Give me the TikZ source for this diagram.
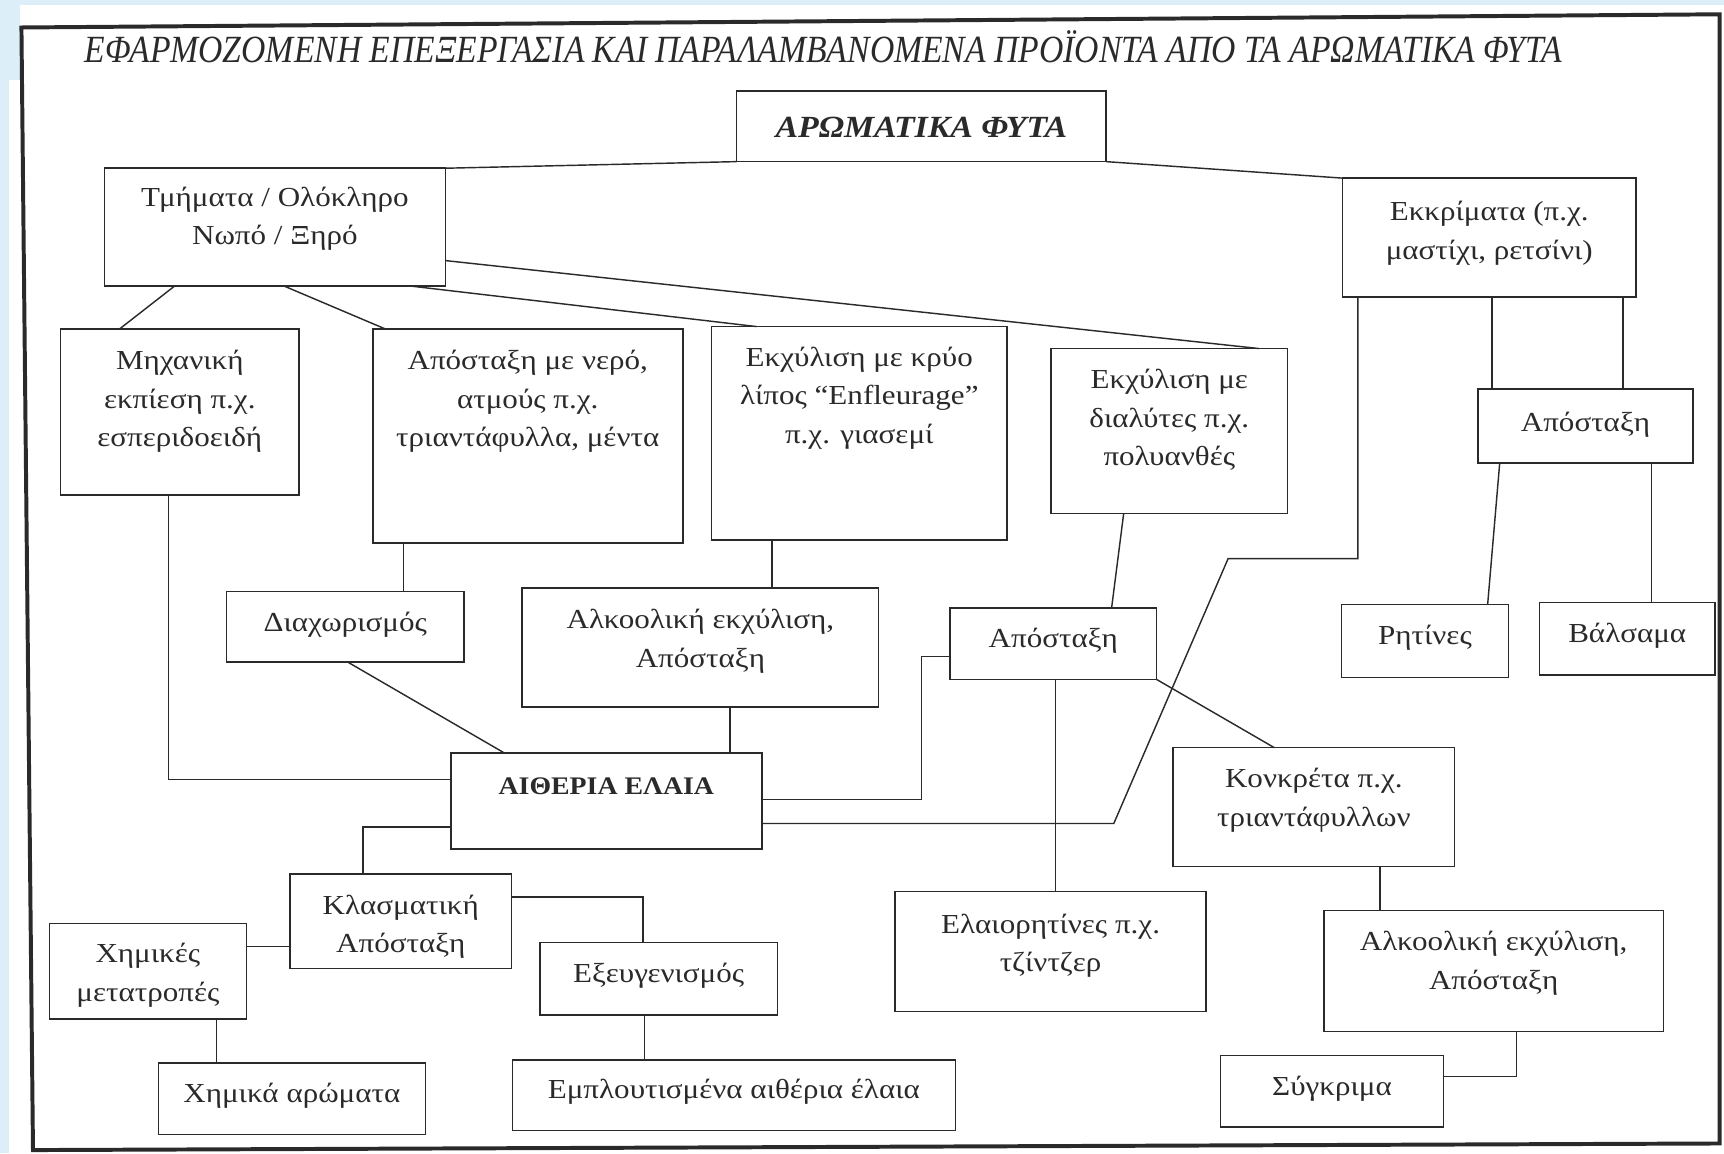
\documentclass[tikz,border=0pt]{standalone}
\usepackage{fontspec}
\setmainfont{Liberation Serif}
\newfontfamily\bodyf[FakeStretch=1.13]{Liberation Serif}
\newfontfamily\titlef[FakeStretch=0.875]{Liberation Serif}
\newfontfamily\aromf[FakeStretch=1.1]{Liberation Serif}
\usetikzlibrary{fit,calc}
\definecolor{ink}{RGB}{42,42,42}
\definecolor{bluebg}{RGB}{220,238,248}
\tikzset{
  boxst/.style={draw=ink, line width=1.4pt, inner sep=0pt, outer sep=0pt},
  txt/.style={text=ink, font=\bodyf\fontsize{25}{35}\selectfont, align=center, inner sep=0pt},
  conn/.style={draw=ink, line width=1.3pt},
}
\newcommand\mkbox[8][txt]{%
  \node[boxst, fit={(#3,#4) (#5,#6)}] (#2) {};
  \node[#1] (#2-t) at ({(#3+#5)/2},#7) {#8};}
\begin{document}
\begin{tikzpicture}[x=1pt,y=-1pt]
\useasboundingbox (0,0) rectangle (1568,1049);
\fill[white] (0,0) rectangle (1568,1049);
\fill[bluebg] (0,0) rectangle (1568,5);
\fill[bluebg] (0,0) rectangle (8,1049);
\fill[bluebg] (0,0) rectangle (18,73);
% frame
\draw[draw=ink, line width=3.6pt] (19.5,25) -- (1564,13) -- (1564,1040) -- (30,1046) -- cycle;
% title
\node[text=ink, font=\titlef\itshape\fontsize{35}{40}\selectfont, inner sep=0pt, anchor=base] (title) at (749,57)
  {ΕΦΑΡΜΟΖΟΜΕΝΗ ΕΠΕΞΕΡΓΑΣΙΑ ΚΑΙ ΠΑΡΑΛΑΜΒΑΝΟΜΕΝΑ ΠΡΟΪΟΝΤΑ ΑΠΟ ΤΑ ΑΡΩΜΑΤΙΚΑ ΦΥΤΑ};
% boxes
\mkbox[txt, font=\aromf\bfseries\itshape\fontsize{28}{30}\selectfont]{aromatika}{670}{83}{1006}{147}{116}{ΑΡΩΜΑΤΙΚΑ ΦΥΤΑ}
\mkbox{tmimata}{95}{153}{405}{260}{199}{Τμήματα / Ολόκληρο\\Νωπό / Ξηρό}
\mkbox{ekkrimata}{1221}{162}{1488}{270}{212}{Εκκρίματα (π.χ.\\μαστίχι, ρετσίνι)}
\mkbox{michaniki}{55}{299}{272}{450}{365}{Μηχανική\\εκπίεση π.χ.\\εσπεριδοειδή}
\mkbox{nero}{339}{299}{621}{494}{365}{Απόσταξη με νερό,\\ατμούς π.χ.\\τριαντάφυλλα, μέντα}
\mkbox{kryo}{647}{297}{916}{491}{362}{Εκχύλιση με κρύο\\λίπος “Enfleurage”\\π.χ. γιασεμί}
\mkbox{dialytes}{956}{317}{1171}{467}{382}{Εκχύλιση με\\διαλύτες π.χ.\\πολυανθές}
\mkbox{apostR}{1344}{354}{1540}{421}{386}{Απόσταξη}
\mkbox{ritines}{1220}{550}{1372}{616}{580}{Ρητίνες}
\mkbox{valsama}{1400}{548}{1560}{614}{578}{Βάλσαμα}
\mkbox{diax}{206}{538}{422}{602}{568}{Διαχωρισμός}
\mkbox{alkM}{475}{535}{799}{643}{583}{Αλκοολική εκχύλιση,\\Απόσταξη}
\mkbox{apostM}{864}{553}{1052}{618}{583}{Απόσταξη}
\mkbox[txt, font=\aromf\bfseries\fontsize{23}{30}\selectfont]{aitheria}{410}{685}{693}{772}{715}{ΑΙΘΕΡΙΑ ΕΛΑΙΑ}
\mkbox{konkreta}{1067}{680}{1323}{788}{728}{Κονκρέτα π.χ.\\τριαντάφυλλων}
\mkbox{klasm}{264}{795}{465}{881}{843}{Κλασματική\\Απόσταξη}
\mkbox{chimikes}{45}{840}{224}{927}{887}{Χημικές\\μετατροπές}
\mkbox{exeug}{491}{857}{707}{923}{887}{Εξευγενισμός}
\mkbox{elaior}{814}{811}{1097}{920}{860}{Ελαιορητίνες π.χ.\\τζίντζερ}
\mkbox{alkR}{1204}{828}{1513}{938}{876}{Αλκοολική εκχύλιση,\\Απόσταξη}
\mkbox{chimika}{144}{967}{387}{1032}{997}{Χημικά αρώματα}
\mkbox{emplout}{466}{964}{869}{1028}{993}{Εμπλουτισμένα αιθέρια έλαια}
\mkbox{sygkrima}{1110}{960}{1313}{1025}{990}{Σύγκριμα}
% connectors
\coordinate (k1) at (1117,508);
\coordinate (k2) at (1013,749);
\draw[conn] (aromatika.south west) -- (tmimata.north east);
\draw[conn] (aromatika.south east) -- (ekkrimata.north west);
\draw[conn] ([xshift=64pt]tmimata.south west) -- ([xshift=54pt]michaniki.north west);
\draw[conn] ([xshift=163pt]tmimata.south west) -- ([xshift=11pt]nero.north west);
\draw[conn] ([xshift=-33pt]tmimata.south east) -- ([xshift=41pt]kryo.north west);
\draw[conn] ([yshift=-30.5pt]tmimata.east) -- ([xshift=-26pt]dialytes.north east);
\draw[conn] ([xshift=136pt]ekkrimata.south west) coordinate (q) -- (q |- apostR.north);
\draw[conn] ([xshift=255pt]ekkrimata.south west) coordinate (q) -- (q |- apostR.north);
\draw[conn] ([xshift=14pt]ekkrimata.south west) |- (k1) -- (k2) -- (k2 -| aitheria.east);
\draw[conn] ([xshift=20pt]apostR.south west) -- ([xshift=133pt]ritines.north west);
\draw[conn] ([xshift=102pt]valsama.north west) coordinate (q) -- (q |- apostR.south);
\draw[conn] ([xshift=66pt]dialytes.south west) -- ([xshift=147pt]apostM.north west);
\draw[conn] ([yshift=-11.5pt]apostM.west) -- ++(-26,0) |- ([yshift=1.5pt]aitheria.east);
\draw[conn] ([xshift=96pt]apostM.south west) coordinate (q) -- (q |- elaior.north);
\draw[conn] (apostM.south east) -- ([xshift=92pt]konkreta.north west);
\draw[conn] ([xshift=28pt]nero.south west) coordinate (q) -- (q |- diax.north);
\draw[conn] ([xshift=55pt]kryo.south west) coordinate (q) -- (q |- alkM.north);
\draw[conn] ([xshift=110pt]diax.south west) -- ([xshift=49pt]aitheria.north west);
\draw[conn] ([xshift=254pt]aitheria.north west) coordinate (q) -- (q |- alkM.south);
\draw[conn] ([xshift=98pt]michaniki.south west) |- ([yshift=19.5pt]aitheria.west);
\draw[conn] ([yshift=-23.5pt]aitheria.west) -| ([xshift=66pt]klasm.north west);
\draw[conn] ([yshift=22pt]klasm.east) -| ([xshift=94pt]exeug.north west);
\draw[conn] ([yshift=22.5pt]chimikes.east) coordinate (q) -- (q -| klasm.west);
\draw[conn] ([xshift=152pt]chimikes.south west) coordinate (q) -- (q |- chimika.north);
\draw[conn] ([xshift=95pt]exeug.south west) coordinate (q) -- (q |- emplout.north);
\draw[conn] ([xshift=188pt]konkreta.south west) coordinate (q) -- (q |- alkR.north);
\draw[conn] ([xshift=175pt]alkR.south west) |- ([yshift=13.5pt]sygkrima.east);
\end{tikzpicture}
\end{document}
